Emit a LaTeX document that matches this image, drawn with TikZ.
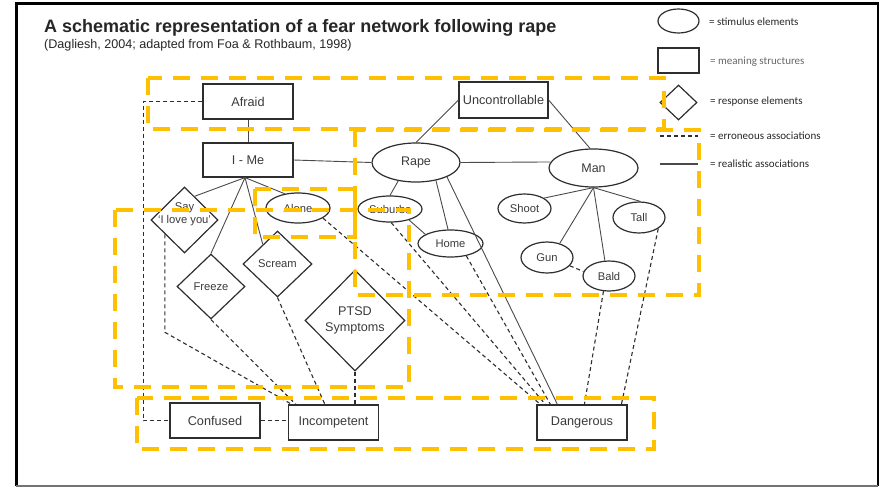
\documentclass[tikz,border=0pt]{standalone}
\usepackage{fontspec}
\setmainfont{Liberation Sans}
\newfontfamily\legendfam{Carlito}
\usetikzlibrary{shapes.geometric}
\definecolor{ink}{HTML}{2E2E2E}
\definecolor{txt}{HTML}{3A3A3A}
\definecolor{wire}{HTML}{4A4A4A}
\definecolor{hilite}{HTML}{FFC000}
\newcommand\fnBig{\fontsize{12.7}{16}\selectfont}
\newcommand\fnSmall{\fontsize{11.2}{12.5}\selectfont}
\begin{document}
\begin{tikzpicture}[x=1pt,y=-1pt,
  mbox/.style={draw=ink, line width=1.2pt, rectangle, inner sep=0pt, text=txt, font=\fnBig},
  stim/.style={draw=ink, line width=1.2pt, ellipse, inner sep=0pt, text=txt, font=\fnSmall},
  resp/.style={draw=ink, line width=1.2pt, diamond, inner sep=0pt, text=txt, font=\fnSmall, align=center},
  lbl/.style={inner sep=0pt, text=txt, font=\fnSmall, align=center},
  real/.style={wire, line width=0.9pt},
  err/.style={ink, line width=1.1pt, dash pattern=on 4pt off 3pt},
  hl/.style={hilite, line width=4pt, dash pattern=on 17pt off 11pt},
  legtxt/.style={inner sep=0pt, anchor=base west, font=\legendfam\fontsize{11}{13}\selectfont, text=black!85}]
\useasboundingbox (0,0) rectangle (882,487);

% frame
\draw[black, line width=2.6pt] (16.3,486) -- (16.3,3.8) -- (878,3.8) -- (878,486);
\draw[black!55, line width=1.5pt] (16.3,486) -- (878,486);

% heading
\node[inner sep=0pt, anchor=base west, text=black!85, font=\fontsize{18}{20}\selectfont\bfseries] (title) at (44,33)
  {A schematic representation of a fear network following rape};
\node[inner sep=0pt, anchor=base west, text=black!85, font=\fontsize{12.6}{14}\selectfont] (source) at (44,48.7)
  {(Dagliesh, 2004; adapted from Foa \& Rothbaum, 1998)};

% meaning structures
\node[mbox, minimum width=90, minimum height=35] (afraid) at (248,101.5) {Afraid};
\node[mbox, minimum width=90, minimum height=34] (ime) at (248,160) {I - Me};
\node[mbox, minimum width=89, minimum height=36] (unc) at (503.5,100) {Uncontrollable};
\node[mbox, minimum width=90, minimum height=35] (conf) at (215,420.5) {Confused};
\node[mbox, minimum width=90, minimum height=35] (incomp) at (333.5,422.5) {Incompetent};
\node[mbox, minimum width=90, minimum height=35] (dang) at (582,422.5) {Dangerous};

% stimulus elements
\node[stim, font=\fontsize{12.5}{14}\selectfont, minimum width=88, minimum height=39] (rape) at (416,162.5) {Rape};
\node[stim, font=\fontsize{12.5}{14}\selectfont, minimum width=89, minimum height=38] (man) at (593.5,168) {Man};
\node[stim, minimum width=64, minimum height=26] (suburbs) at (390,209) {Suburbs};
\node[stim, minimum width=65, minimum height=27] (home) at (450.5,243.5) {Home};
\node[stim, minimum width=53, minimum height=29] (shoot) at (524.5,208.5) {Shoot};
\node[stim, minimum width=52, minimum height=31] (tall) at (639,217.5) {Tall};
\node[stim, minimum width=52, minimum height=31] (gun) at (547,257.5) {Gun};
\node[stim, minimum width=52, minimum height=30] (bald) at (609,276) {Bald};
\node[stim, minimum width=64, minimum height=30] (alone) at (298,208) {Alone};

% response elements
\node[resp, minimum width=67, minimum height=66,
  label={[lbl, yshift=6pt]center:{Say\\`I love you'}}] (say) at (184.5,220) {};
\node[resp, minimum width=68, minimum height=65] (freeze) at (211,286.5) {Freeze};
\node[resp, minimum width=69, minimum height=66] (scream) at (277.5,264) {Scream};
\node[resp, font=\fontsize{12.6}{16}\selectfont, minimum width=100, minimum height=101] (ptsd) at (355,320.5) {PTSD\\Symptoms};

% realistic associations
\draw[real] (afraid.south) -- (ime.north);
\draw[real] (ime.east) -- (rape.west);
\draw[real] (rape.north) -- (unc.west);
\draw[real] (unc.east) -- (man.100);
\draw[real] (rape.east) -- (man.172);
\draw[real] (rape.226) -- (suburbs.north);
\draw[real] (rape.318) -- (home.100);
\draw[real] (suburbs.-30) -- (home.160);
\draw[real] (rape.335) -- ([xshift=21pt]dang.north west);
\draw[real] (man.south) -- (shoot.28);
\draw[real] (man.south) -- (gun.48);
\draw[real] (man.south) -- (bald.105);
\draw[real] (man.south) -- (tall.85);
\draw[real] ([xshift=-3pt]ime.south) -- (say.67);
\draw[real] ([xshift=-3pt]ime.south) -- (freeze.north);
\draw[real] ([xshift=-3pt]ime.south) -- (scream.127);
\draw[real] ([xshift=-3pt]ime.south) -- (alone.133);

% erroneous associations
\draw[err] (afraid.west) -- ++(-59,0) |- (conf.west);
\draw[err] (conf.east) -- (conf.east -| incomp.west);
\draw[err] (say.216) -- ++(0,98) -- ([xshift=4pt]incomp.north west);
\draw[err] (freeze.south) -- ([xshift=8pt]incomp.north west);
\draw[err] (scream.south) -- ([xshift=37pt]incomp.north west);
\draw[err] (ptsd.south) -- (ptsd.south |- incomp.north);
\draw[err] (alone.-22) -- ([xshift=4pt]dang.north west);
\draw[err] (suburbs.-85) -- ([xshift=9pt]dang.north west);
\draw[err] (home.-38) -- ([xshift=14pt]dang.north west);
\draw[err] (bald.250) -- ([xshift=48pt]dang.north west);
\draw[err] (tall.-30) -- ([xshift=85pt]dang.north west);
\draw[err] (gun.-20) -- (bald.170);

% legend
\node[stim, minimum width=41, minimum height=24] (keyS) at (678.5,21) {};
\node[mbox, minimum width=41, minimum height=25] (keyM) at (678.5,60.5) {};
\node[resp, minimum width=37, minimum height=35] (keyR) at (678.5,102.5) {};
\coordinate (keyEa) at (660,136); \coordinate (keyEb) at (698,136);
\coordinate (keyLa) at (660,164); \coordinate (keyLb) at (698,164);
\draw[err, line width=1.3pt] (keyEa) -- (keyEb);
\draw[real, line width=1.3pt] (keyLa) -- (keyLb);
\node[legtxt] (tS) at (709,26) {= stimulus elements};
\node[legtxt, text=black!60] (tM) at (710,64.5) {= meaning structures};
\node[legtxt] (tR) at (710,104) {= response elements};
\node[legtxt] (tE) at (710,139.5) {= erroneous associations};
\node[legtxt] (tL) at (710,167.5) {= realistic associations};

% highlighted clusters
\draw[hl] (148,78) rectangle (664,129);
\draw[hl] (355,130) rectangle (699,295);
\draw[hl] (255,189) rectangle (355,237);
\draw[hl] (115,210) rectangle (409,387);
\draw[hl] (137,398) rectangle (654,449);
\end{tikzpicture}
\end{document}
